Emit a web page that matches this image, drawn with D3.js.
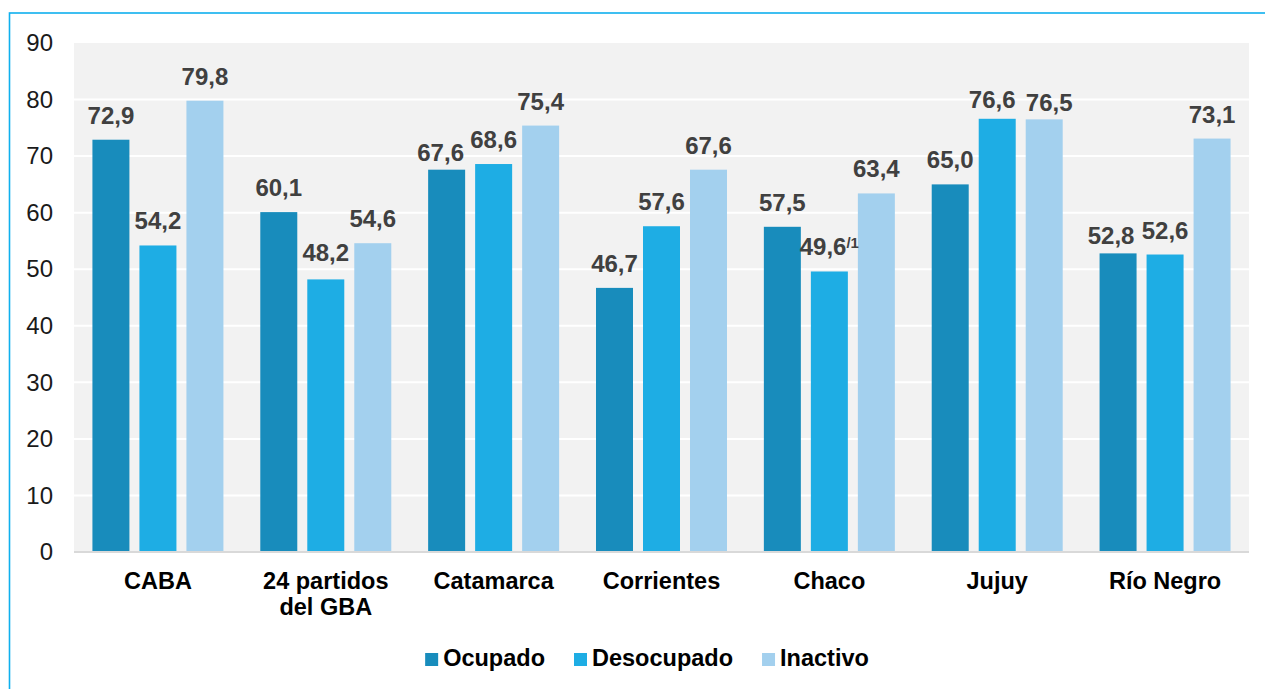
<!DOCTYPE html>
<meta charset="utf-8">
<style>
body { margin: 0; background: #fff; }
svg text { font-family: "Liberation Sans", Arial, Helvetica, sans-serif; }
</style>
<body>
<script src="https://cdn.jsdelivr.net/npm/d3@7"></script>
<script>

// categories (provinces / areas), second line after "|"
var categories = ["CABA", "24 partidos|del GBA", "Catamarca", "Corrientes", "Chaco", "Jujuy", "Río Negro"];
var series = ["Ocupado", "Desocupado", "Inactivo"];

// values
var ocupado    = [72.9, 60.1, 67.6, 46.7, 57.5, 65.0, 52.8];
var desocupado = [54.2, 48.2, 68.6, 57.6, 49.6, 76.6, 52.6];
var inactivo   = [79.8, 54.6, 75.4, 67.6, 63.4, 76.5, 73.1];

var yTicks = [0, 10, 20, 30, 40, 50, 60, 70, 80, 90];

// note marks on some labels
var notes = { "Chaco|Desocupado": "/1" };

var colours = d3.scaleOrdinal()
    .domain(series)
    .range(["#188cbc", "#1eade4", "#a3d0ee"]);

var width = 1265, height = 689;
var plot = { left: 74, right: 1249, top: 43, bottom: 552 };

var svg = d3.select("body").append("svg")
    .attr("width", width)
    .attr("height", height);

// blue frame round the chart (right / bottom edges run off the picture)
svg.append("rect")
    .attr("x", 9.5).attr("y", 13)
    .attr("width", 1300).attr("height", 700)
    .attr("fill", "none")
    .attr("stroke", "#0fb0ee")
    .attr("stroke-width", 1.6);

var x0 = d3.scaleBand()
    .domain(categories)
    .range([plot.left, plot.right])
    .padding(0);

var x1 = d3.scaleBand()
    .domain(series)
    .range([0, x0.bandwidth()])
    .paddingInner(0.213)
    .paddingOuter(0.392);

var y = d3.scaleLinear()
    .domain([0, 90])
    .range([plot.bottom, plot.top]);

// plot background
svg.append("rect")
    .attr("x", plot.left).attr("y", plot.top)
    .attr("width", plot.right - plot.left)
    .attr("height", plot.bottom - plot.top)
    .attr("fill", "#f2f2f2");

// gridlines
svg.append("g")
  .selectAll("line")
  .data(yTicks.filter(function(d) { return d > 0 && d < 90; }))
  .enter().append("line")
    .attr("x1", plot.left).attr("x2", plot.right)
    .attr("y1", function(d) { return y(d); })
    .attr("y2", function(d) { return y(d); })
    .attr("stroke", "#fff")
    .attr("stroke-width", 2);

// y axis labels
var yAxis = d3.axisLeft(y).tickValues(yTicks).tickSize(0).tickPadding(0);
var gy = svg.append("g")
    .attr("transform", "translate(53,0)")
    .call(yAxis);
gy.select(".domain").remove();
gy.selectAll("text")
    .attr("font-size", "24px")
    .attr("fill", "#1a1a1a")
    .attr("font-family", "Liberation Sans, Arial, sans-serif");

// build rows
var rows = categories.map(function(c, i) {
  return { cat: c, values: [
    { s: "Ocupado", v: ocupado[i] },
    { s: "Desocupado", v: desocupado[i] },
    { s: "Inactivo", v: inactivo[i] }
  ]};
});

var groups = svg.append("g").selectAll("g")
    .data(rows)
    .enter().append("g")
    .attr("transform", function(d) { return "translate(" + x0(d.cat) + ",0)"; });

groups.selectAll("rect")
    .data(function(d) { return d.values; })
    .enter().append("rect")
    .attr("x", function(d) { return x1(d.s); })
    .attr("y", function(d) { return y(d.v); })
    .attr("width", x1.bandwidth())
    .attr("height", function(d) { return y(0) - y(d.v); })
    .attr("fill", function(d) { return colours(d.s); });

// baseline
svg.append("line")
    .attr("x1", plot.left).attr("x2", plot.right)
    .attr("y1", y(0)).attr("y2", y(0))
    .attr("stroke", "#d9d9d9")
    .attr("stroke-width", 2);

// small nudges where excel moved crowded labels (px)
var nudge = {
  "Catamarca|Ocupado": [-6, 7],
  "Jujuy|Desocupado": [-5, 5],
  "Jujuy|Inactivo": [5, 8],
  "Río Negro|Ocupado": [-7, 7],
  "24 partidos|del GBA|Desocupado": [0, -2]
};

// value labels
groups.each(function(row) {
  var g = d3.select(this);
  row.values.forEach(function(d) {
    var key = row.cat + "|" + d.s;
    var n = nudge[key] || [0, 0];
    var t = g.append("text")
        .attr("x", x1(d.s) + x1.bandwidth() / 2 + n[0])
        .attr("y", y(d.v) - 16 + n[1])
        .attr("text-anchor", "middle")
        .attr("font-size", "24px")
        .attr("font-weight", "bold")
        .attr("fill", "#404040");
    t.append("tspan").text(d.v.toFixed(1).replace(".", ","));
    if (notes[key]) {
      t.append("tspan")
        .attr("font-size", "15px")
        .attr("dy", -7)
        .text(notes[key]);
    }
  });
});

// category labels
var cats = svg.append("g").selectAll("text")
    .data(categories)
    .enter().append("text")
    .attr("x", function(d) { return x0(d) + x0.bandwidth() / 2; })
    .attr("y", 589)
    .attr("text-anchor", "middle")
    .attr("font-size", "23.5px")
    .attr("font-weight", "bold")
    .attr("fill", "#000");

cats.each(function(d) {
  var parts = d.split("|");
  var t = d3.select(this);
  parts.forEach(function(p, i) {
    t.append("tspan")
      .attr("x", x0(d) + x0.bandwidth() / 2)
      .attr("dy", i === 0 ? 0 : 26)
      .text(p);
  });
});

// legend
var legend = svg.append("g");
var lx = 0;
series.forEach(function(s, i) {
  var item = legend.append("g").attr("transform", "translate(" + lx + ",0)");
  item.append("rect")
    .attr("x", 0).attr("y", 653)
    .attr("width", 13).attr("height", 13)
    .attr("fill", colours(s));
  var txt = item.append("text")
    .attr("x", 18).attr("y", 666)
    .attr("font-size", "23.5px")
    .attr("font-weight", "bold")
    .attr("fill", "#000")
    .text(s);
  lx += 18 + txt.node().getComputedTextLength() + 29;
});
var legendWidth = lx - 29;
legend.attr("transform", "translate(" + (647 - legendWidth / 2) + ",0)");

</script>
</body>
